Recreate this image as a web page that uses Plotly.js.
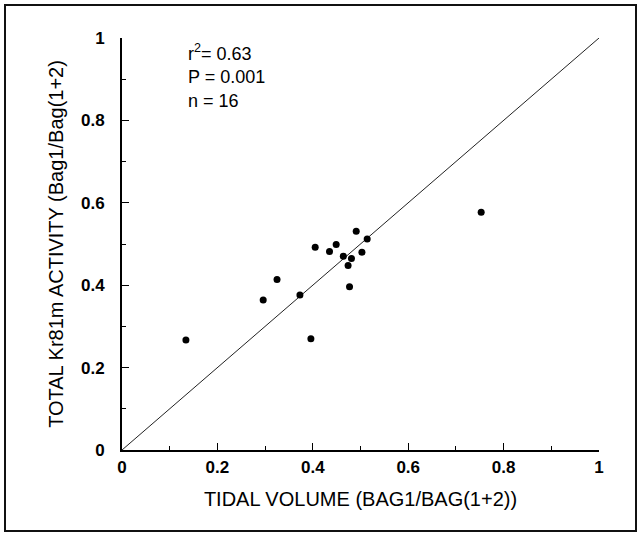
<!DOCTYPE html>
<html>
<head>
<meta charset="utf-8">
<script src="https://cdn.plot.ly/plotly-3.0.1.min.js"></script>
<style>
  html, body { margin: 0; padding: 0; background: #fff; }
  #chart { width: 641px; height: 535px; }
</style>
</head>
<body>
<div id="chart"></div>
<script>
// Data
const tidalVolume = [0.753, 0.491, 0.514, 0.405, 0.449, 0.435, 0.503, 0.464, 0.481, 0.474, 0.325, 0.296, 0.373, 0.477, 0.396, 0.134];
const krActivity  = [0.577, 0.531, 0.512, 0.492, 0.499, 0.482, 0.480, 0.470, 0.465, 0.448, 0.414, 0.364, 0.376, 0.396, 0.270, 0.267];
const lineX = [0, 1];
const lineY = [0, 1];
const statsText = ["r<sup>2</sup>= 0.63", "P = 0.001", "n = 16"];
const statsY = [0.964, 0.906, 0.848];
const tickVals = [0, 0.2, 0.4, 0.6, 0.8, 1];
const tickText = ["0", "0.2", "0.4", "0.6", "0.8", "1"];

const W = 641, H = 535;
const M = {l: 122, r: 42, t: 38, b: 85};
const pw = W - M.l - M.r, ph = H - M.t - M.b;
const px = x => (x - M.l) / pw;
const py = y => (H - M.b - y) / ph;

const font = "Liberation Sans, Arial, Helvetica, sans-serif";

const traces = [
  {x: lineX, y: lineY, mode: 'lines', type: 'scatter',
   line: {color: '#222', width: 1}, hoverinfo: 'skip', showlegend: false},
  {x: tidalVolume, y: krActivity, mode: 'markers', type: 'scatter',
   marker: {color: '#000', size: 7}, showlegend: false, cliponaxis: false}
];

const axisCommon = {
  range: [0, 1], tickvals: tickVals, ticktext: tickText,
  ticks: 'inside', ticklen: 7, tickwidth: 1, tickcolor: '#000',
  minor: {dtick: 0.1, tick0: 0, ticks: 'inside', ticklen: 4, tickcolor: '#000', tickwidth: 1},
  showline: true, linecolor: '#000', linewidth: 2,
  showgrid: false, zeroline: false,
  tickfont: {family: font, size: 17, color: '#000', weight: 'bold'},
  fixedrange: true
};

const annotations = statsText.map((t, i) => ({
  xref: 'x', yref: 'y', x: 0.135, y: statsY[i], text: t,
  showarrow: false, xanchor: 'left', yanchor: 'middle',
  font: {family: font, size: 18, color: '#000'}
}));

const layout = {
  width: W, height: H,
  margin: M,
  paper_bgcolor: '#fff', plot_bgcolor: '#fff',
  xaxis: Object.assign({}, axisCommon, {
    title: {text: 'TIDAL VOLUME (BAG1/BAG(1+2))', font: {family: font, size: 20, color: '#000'}, standoff: 16},
    ticklabelstandoff: 1
  }),
  yaxis: Object.assign({}, axisCommon, {
    title: {text: 'TOTAL Kr81m ACTIVITY (Bag1/Bag(1+2)', font: {family: font, size: 20, color: '#000'}, standoff: 12},
    ticklabelstandoff: 12
  }),
  annotations: annotations,
  shapes: [{
    type: 'rect', xref: 'paper', yref: 'paper',
    x0: px(5), x1: px(636), y0: py(531), y1: py(5),
    line: {color: '#111', width: 2}
  }],
  showlegend: false
};

Plotly.newPlot('chart', traces, layout, {displayModeBar: false, staticPlot: true});
</script>
</body>
</html>
